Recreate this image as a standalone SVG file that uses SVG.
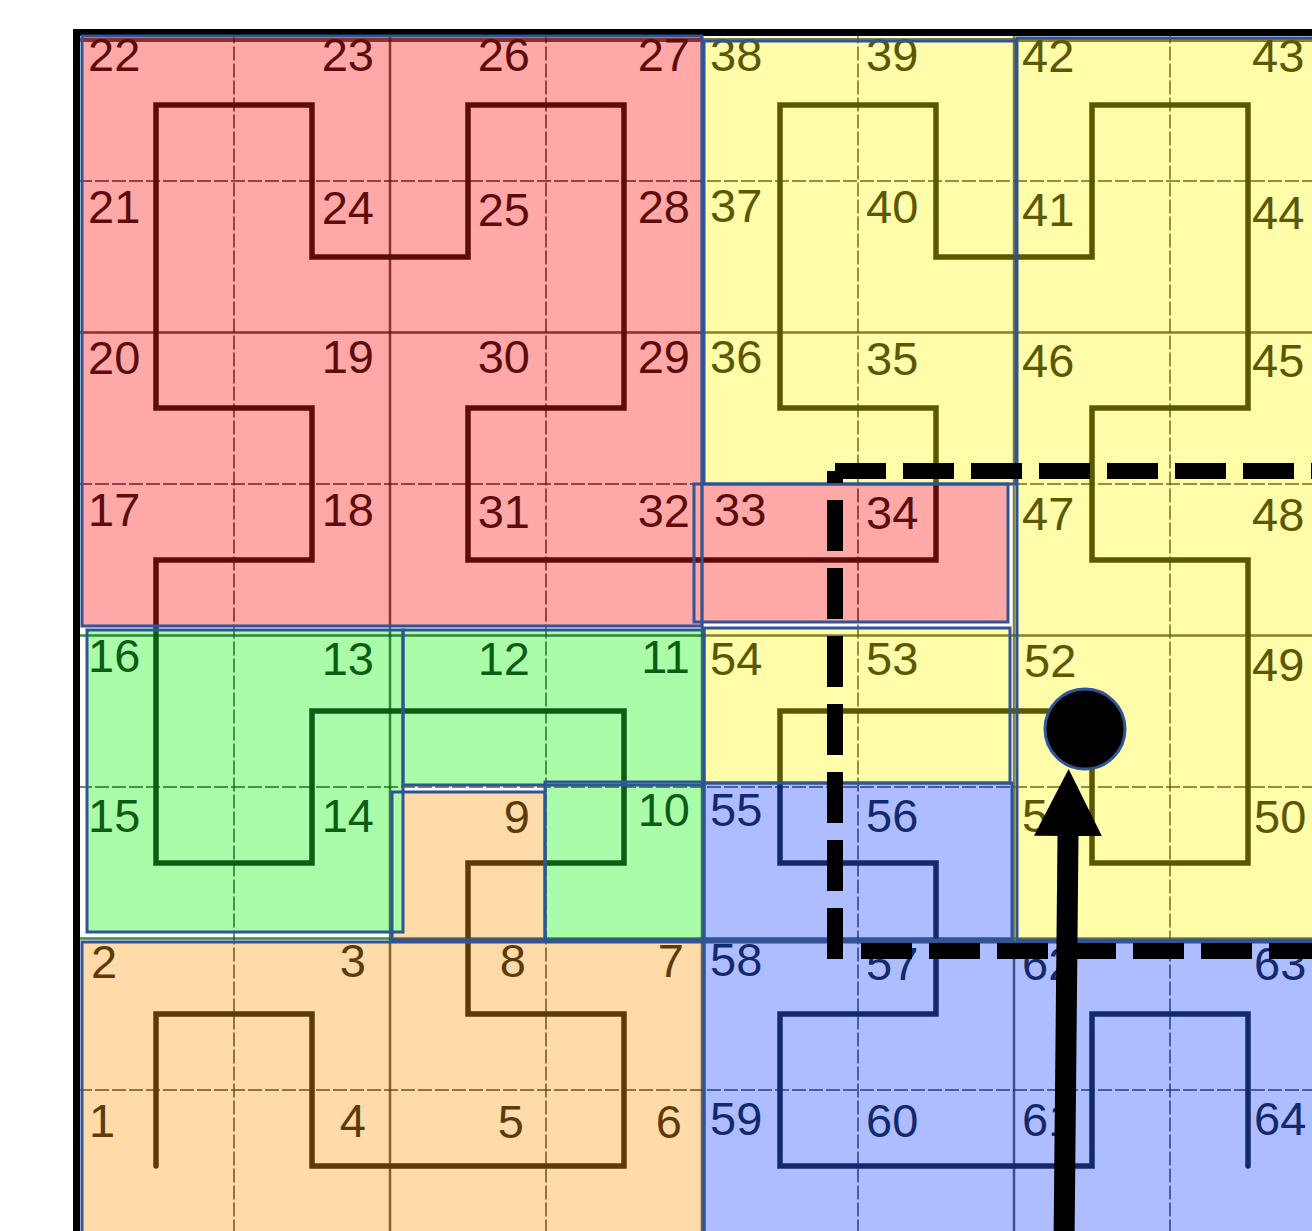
<svg xmlns="http://www.w3.org/2000/svg" width="1312" height="1231" viewBox="0 0 1312 1231">
<defs>
<style>
.fr{fill:#FFA8A8}.fy{fill:#FFFCAA}.fg{fill:#ABFCA9}.fo{fill:#FFDBAA}.fb{fill:#AEBDFF}
.ol{fill:none;stroke:#2F5597;stroke-width:3}
.gs{stroke:currentColor;stroke-opacity:.75;stroke-width:2.5;fill:none}
.gd{stroke:currentColor;stroke-opacity:.65;stroke-width:2;stroke-dasharray:14 3;fill:none}
.crv{stroke:currentColor;stroke-width:5.5;fill:none;stroke-linejoin:miter;stroke-linecap:round}
text{font-family:"Liberation Sans",Arial,sans-serif;font-size:47px}
.tr{fill:#5e0b0b}.ty{fill:#5b5800}.tg{fill:#0b5c14}.to{fill:#5e3a08}.tb{fill:#13296d}
.e{text-anchor:end}
.dash{fill:none;stroke:#000;stroke-width:16;stroke-dasharray:51 17}
</style>
<clipPath id="cR"><rect x="0" y="0" width="703" height="628"/><rect x="703" y="484" width="310" height="141"/></clipPath>
<clipPath id="cY"><rect x="703" y="0" width="700" height="484"/><rect x="1013" y="484" width="390" height="457"/><rect x="703" y="625" width="310" height="158"/></clipPath>
<clipPath id="cG"><rect x="0" y="628" width="397" height="313"/><rect x="397" y="628" width="306" height="157"/><rect x="545" y="785" width="158" height="156"/></clipPath>
<clipPath id="cO"><rect x="0" y="941" width="703" height="400"/><rect x="397" y="785" width="148" height="156"/></clipPath>
<clipPath id="cB"><rect x="703" y="783" width="310" height="158"/><rect x="703" y="941" width="700" height="400"/></clipPath>
<g id="ink">
<g class="gs">
<line x1="390" y1="29.5" x2="390" y2="1242"/><line x1="702" y1="29.5" x2="702" y2="1242"/><line x1="1014" y1="29.5" x2="1014" y2="1242"/>
<line x1="78" y1="332.5" x2="1326" y2="332.5"/><line x1="78" y1="635.5" x2="1326" y2="635.5"/><line x1="78" y1="938.5" x2="1326" y2="938.5"/>
<line x1="78" y1="40" x2="1326" y2="40" stroke-width="4"/>
</g>
<g class="gd">
<line x1="234" y1="29.5" x2="234" y2="1242"/><line x1="546" y1="29.5" x2="546" y2="1242"/><line x1="858" y1="29.5" x2="858" y2="1242"/><line x1="1170" y1="29.5" x2="1170" y2="1242"/>
<line x1="78" y1="181" x2="1326" y2="181"/><line x1="78" y1="484" x2="1326" y2="484"/><line x1="78" y1="787" x2="1326" y2="787"/><line x1="78" y1="1090" x2="1326" y2="1090"/>
</g>
<path class="crv" d="M156,1166 V1014 H312 V1166 H624 V1014 H468 V863 H624 V711 H312 V863 H156 V560 H312 V408 H156 V105 H312 V257 H468 V105 H624 V408 H468 V560 H936 V408 H780 V105 H936 V257 H1092 V105 H1248 V408 H1092 V560 H1248 V863 H1092 V711 H780 V863 H936 V1014 H780 V1166 H1092 V1014 H1248 V1166"/>
</g>
<marker id="ah" viewBox="0 0 68 68" refX="0" refY="34" markerWidth="68" markerHeight="68" markerUnits="userSpaceOnUse" orient="auto">
<path d="M0,0 L67,34 L0,68 Z" fill="#000"/>
</marker>
</defs>
<rect x="0" y="0" width="1312" height="1231" fill="#fff"/>

<g id="region-fills">
<rect id="fill-y1" class="fy" x="704" y="41" width="312" height="443"/>
<rect id="fill-y2" class="fy" x="1017" y="38" width="320" height="902"/>
<rect id="fill-r1" class="fr" x="82" y="36" width="620" height="590"/>
<rect id="fill-r2" class="fr" x="694" y="484" width="314" height="138"/>
<rect id="fill-y3" class="fy" x="704" y="628" width="306" height="155"/>
<rect id="fill-b1" class="fb" x="704" y="783" width="308" height="157"/>
<rect id="fill-b2" class="fb" x="704" y="942" width="620" height="300"/>
<rect id="fill-o1" class="fo" x="392" y="792" width="153" height="148"/>
<rect id="fill-g1" class="fg" x="87" y="630" width="316" height="302"/>
<rect id="fill-g2" class="fg" x="403" y="630" width="301" height="155"/>
<rect id="fill-g3" class="fg" x="545" y="782" width="159" height="158"/>
<rect id="fill-o2" class="fo" x="82" y="942" width="622" height="300"/>
</g>

<g id="grid-and-curve">
<use href="#ink" color="#5e0b0b" clip-path="url(#cR)"/>
<use href="#ink" color="#5b5800" clip-path="url(#cY)"/>
<use href="#ink" color="#0b5c14" clip-path="url(#cG)"/>
<use href="#ink" color="#5e3a08" clip-path="url(#cO)"/>
<use href="#ink" color="#13296d" clip-path="url(#cB)"/>
</g>

<g id="labels">
<text class="tr" x="88" y="71">22</text><text class="tr e" x="374" y="71">23</text><text class="tr e" x="530" y="71">26</text><text class="tr e" x="690" y="71">27</text>
<text class="ty" x="710" y="71">38</text><text class="ty" x="866" y="71">39</text><text class="ty" x="1022" y="72">42</text><text class="ty" x="1252" y="72">43</text>

<text class="tr" x="88" y="223">21</text><text class="tr e" x="374" y="224">24</text><text class="tr e" x="530" y="226">25</text><text class="tr e" x="690" y="223">28</text>
<text class="ty" x="710" y="222">37</text><text class="ty" x="866" y="223">40</text><text class="ty" x="1022" y="226">41</text><text class="ty" x="1252" y="229">44</text>

<text class="tr" x="88" y="374">20</text><text class="tr e" x="374" y="373">19</text><text class="tr e" x="530" y="373">30</text><text class="tr e" x="690" y="373">29</text>
<text class="ty" x="710" y="373">36</text><text class="ty" x="866" y="375">35</text><text class="ty" x="1022" y="377">46</text><text class="ty" x="1252" y="377">45</text>

<text class="tr" x="88" y="526">17</text><text class="tr e" x="374" y="526">18</text><text class="tr e" x="530" y="528">31</text><text class="tr e" x="690" y="527">32</text>
<text class="tr" x="714" y="526">33</text><text class="tr" x="866" y="529">34</text><text class="ty" x="1022" y="530">47</text><text class="ty" x="1252" y="531">48</text>

<text class="tg" x="88" y="672">16</text><text class="tg e" x="374" y="675">13</text><text class="tg e" x="530" y="675">12</text><text class="tg e" x="690" y="673">11</text>
<text class="ty" x="710" y="675">54</text><text class="ty" x="866" y="675">53</text><text class="ty" x="1024" y="677">52</text><text class="ty" x="1252" y="681">49</text>

<text class="tg" x="88" y="832">15</text><text class="tg e" x="374" y="832">14</text><text class="to e" x="530" y="833">9</text><text class="tg e" x="690" y="826">10</text>
<text class="tb" x="710" y="826">55</text><text class="tb" x="866" y="832">56</text><text class="ty" x="1022" y="832">51</text><text class="ty" x="1254" y="833">50</text>

<text class="to" x="91" y="978">2</text><text class="to e" x="366" y="977">3</text><text class="to e" x="526" y="977">8</text><text class="to e" x="684" y="977">7</text>
<text class="tb" x="710" y="976">58</text><text class="tb" x="866" y="980">57</text><text class="tb" x="1022" y="980">62</text><text class="tb" x="1254" y="980">63</text>

<text class="to" x="89" y="1137">1</text><text class="to e" x="366" y="1137">4</text><text class="to e" x="524" y="1138">5</text><text class="to e" x="682" y="1138">6</text>
<text class="tb" x="710" y="1135">59</text><text class="tb" x="866" y="1137">60</text><text class="tb" x="1022" y="1136">61</text><text class="tb" x="1254" y="1135">64</text>
</g>

<path id="frame" d="M76.5,1240 V32.5 H1320" fill="none" stroke="#000" stroke-width="7"/>

<g id="region-outlines" class="ol">
<rect x="704" y="41" width="312" height="443"/>
<rect x="1017" y="38" width="320" height="902"/>
<rect x="82" y="36" width="620" height="590"/>
<rect x="694" y="484" width="314" height="138"/>
<rect x="704" y="628" width="306" height="155"/>
<rect x="704" y="783" width="308" height="157"/>
<rect x="704" y="942" width="620" height="300"/>
<rect x="392" y="792" width="153" height="148"/>
<rect x="87" y="630" width="316" height="302"/>
<rect x="403" y="630" width="301" height="155"/>
<rect x="545" y="782" width="159" height="158"/>
<rect x="82" y="942" width="622" height="300"/>
</g>

<g id="selection-box">
<line class="dash" x1="835" y1="471" x2="1320" y2="471"/>
<line class="dash" x1="835" y1="959" x2="835" y2="471"/>
<line class="dash" x1="861" y1="951" x2="1320" y2="951"/>
</g>

<g id="point-node">
<circle cx="1085" cy="729" r="40" fill="#000" stroke="#2F5597" stroke-width="3"/>
</g>

<g id="connectors">
<line x1="1064" y1="1245" x2="1068" y2="836" stroke="#000" stroke-width="21" marker-end="url(#ah)"/>
</g>
</svg>
